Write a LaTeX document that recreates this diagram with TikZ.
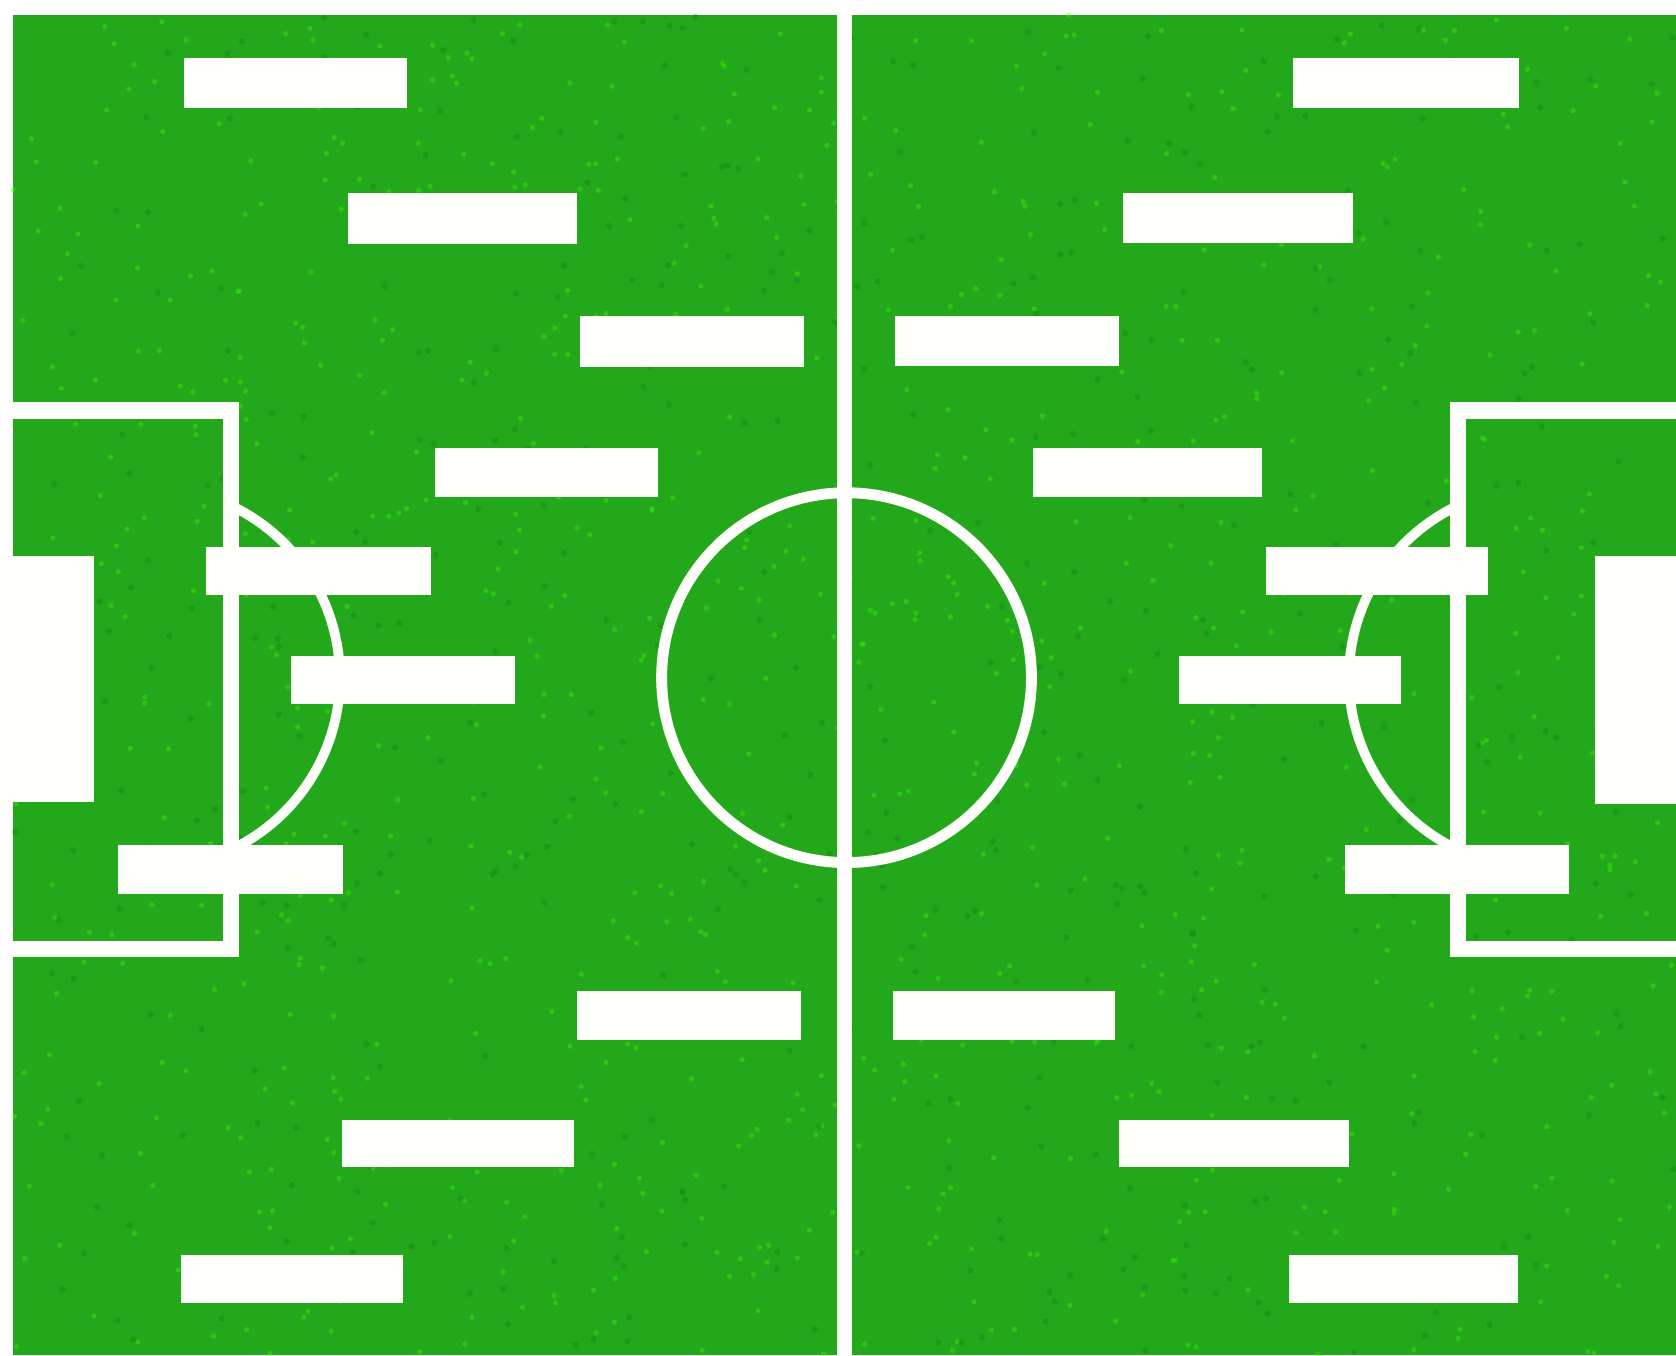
\documentclass[tikz,border=0pt]{standalone}
\usepackage{tikz}
\definecolor{grass}{RGB}{34,168,26}
\definecolor{chalk}{RGB}{255,255,252}

\begin{document}
\begin{tikzpicture}[x=0.1mm,y=-0.1mm]
\tikzset{line/.style={draw=chalk,line width=4.4pt},
arc/.style={draw=chalk,line width=2.6pt},
slot/.style={fill=chalk}}
\useasboundingbox(0,0)rectangle(1568,1268);
\fill[white](0,0)rectangle(1568,1268);
\fill[grass](12,14)rectangle(1568,1268);
% grass texture
\pgfmathsetseed{7}
\foreach \i in {1,...,900}
\fill[green!70!lime,opacity=0.35](12+rnd*1556,14+rnd*1254)circle(2.5);
\foreach \i in {1,...,500}
\fill[grass!70!black,opacity=0.3](12+rnd*1556,14+rnd*1254)circle(3);
% halfway line and centre circle
\draw[line,line width=4pt](790,14)--(790,1268);
\draw[arc,line width=2.9pt](792,634)circle(173);
% penalty areas
\draw[line](12,384)-|(216,888)--(12,888);
\draw[line](1568,384)-|(1364,888)--(1568,888);
\begin{scope}
\clip(216,0)rectangle(790,1268);
\draw[arc](140,634)circle(178);
\end{scope}
\begin{scope}
\clip(790,0)rectangle(1364,1268);
\draw[arc](1440,634)circle(178);
\end{scope}
% goals
\fill[chalk](0,520)rectangle(88,750);
\fill[chalk](1492,520)rectangle(1568,752);
% left team
\foreach \a/\b/\c/\d in {172/54/381/101,326/181/540/228,543/296/752/343,
407/419/616/465,193/512/403/557,272/614/482/659,110/791/321/836,
540/927/749/973,320/1048/537/1092,169/1174/377/1219}
\fill[slot](\a,\b)rectangle(\c,\d);
% right team
\foreach \a/\b/\c/\d in {1210/54/1421/101,1051/181/1266/227,837/296/1047/342,
966/419/1181/465,1184/512/1392/557,1103/614/1311/659,1258/791/1468/836,
835/927/1043/973,1047/1048/1262/1092,1206/1174/1420/1219}
\fill[slot](\a,\b)rectangle(\c,\d);
\end{tikzpicture}
\end{document}
